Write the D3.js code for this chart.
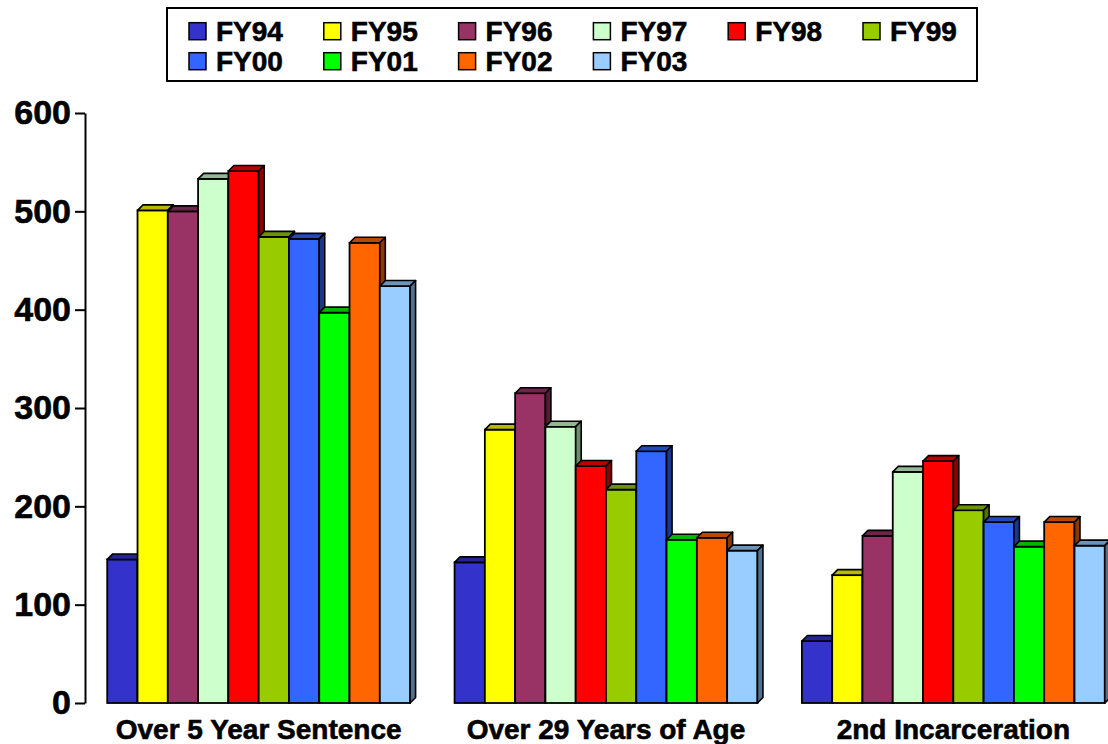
<!DOCTYPE html>
<html>
<head>
<meta charset="utf-8">
<script src="https://cdn.jsdelivr.net/npm/d3@7/dist/d3.min.js"></script>
<style>
  html, body { margin: 0; padding: 0; background: #ffffff; }
  svg { display: block; font-family: "Liberation Sans", Arial, sans-serif; font-weight: bold; }
  text { stroke: #000; stroke-width: 0.6px; paint-order: stroke; }
</style>
</head>
<body>
<svg id="chart" width="1108" height="744"></svg>
<script>
// Categories along the x axis
const categories = ["Over 5 Year Sentence", "Over 29 Years of Age", "2nd Incarceration"];

// Fiscal-year series, one value per category
const years = ["FY94", "FY95", "FY96", "FY97", "FY98", "FY99", "FY00", "FY01", "FY02", "FY03"];
const fy94 = [146, 143, 63];
const fy95 = [501, 278, 130];
const fy96 = [500, 315, 170];
const fy97 = [533, 281, 235];
const fy98 = [541, 241, 246];
const fy99 = [474, 217, 196];
const fy00 = [472, 256, 184];
const fy01 = [397, 166, 159];
const fy02 = [468, 168, 184];
const fy03 = [424, 155, 160];
const seriesValues = [fy94, fy95, fy96, fy97, fy98, fy99, fy00, fy01, fy02, fy03];

const colors = ["#3333cc", "#ffff00", "#993366", "#ccffcc", "#ff0000",
                "#99cc00", "#3366ff", "#00ff00", "#ff6600", "#99ccff"];

const yTicks = [0, 100, 200, 300, 400, 500, 600];

const svg = d3.select("#chart");

// Scales
const x0 = d3.scaleBand().domain(categories).range([85, 1127]).paddingInner(0.128).paddingOuter(0.064);
const x1 = d3.scaleBand().domain(years).range([0, x0.bandwidth()]).padding(0);
const y = d3.scaleLinear().domain([0, 600]).range([703, 113]);

const depth = 5.5;

function shade(c, k) {
  const r = d3.rgb(c);
  return d3.rgb(r.r * k, r.g * k, r.b * k).formatHex();
}

// 3D columns: front face, top face and right side, drawn left to right
const plot = svg.append("g");
categories.forEach((cat, ci) => {
  years.forEach((yr, si) => {
    const v = seriesValues[si][ci];
    const bx = x0(cat) + x1(yr);
    const bw = x1.bandwidth();
    const top = y(v);
    const base = y(0);
    const g = plot.append("g");
    g.append("rect")
      .attr("x", bx).attr("y", top)
      .attr("width", bw).attr("height", base - top)
      .attr("fill", colors[si])
      .attr("stroke", "#000").attr("stroke-width", 1.8);
    g.append("polygon")
      .attr("points", [[bx, top], [bx + depth, top - depth], [bx + bw + depth, top - depth], [bx + bw, top]].join(" "))
      .attr("fill", shade(colors[si], 0.72))
      .attr("stroke", "#000").attr("stroke-width", 1.6).attr("stroke-linejoin", "round");
    g.append("polygon")
      .attr("points", [[bx + bw, top], [bx + bw + depth, top - depth], [bx + bw + depth, base - depth], [bx + bw, base]].join(" "))
      .attr("fill", shade(colors[si], 0.55))
      .attr("stroke", "#000").attr("stroke-width", 1.6).attr("stroke-linejoin", "round");
  });
});

// Y axis
const yAxis = d3.axisLeft(y).tickValues(yTicks).tickSize(10).tickSizeOuter(0).tickPadding(4);
const ga = svg.append("g").attr("transform", "translate(85,0)").call(yAxis);
ga.select(".domain").attr("stroke", "#000").attr("stroke-width", 2);
ga.selectAll(".tick line").attr("stroke", "#000").attr("stroke-width", 2);
ga.selectAll(".tick text")
  .attr("fill", "#000")
  .attr("font-size", 34)
  .attr("font-weight", "bold")
  .attr("font-family", "'Liberation Sans', Arial, sans-serif");

// Category labels
svg.append("g").selectAll("text")
  .data(categories)
  .join("text")
  .attr("x", d => x0(d) + x0.bandwidth() / 2)
  .attr("y", 739)
  .attr("text-anchor", "middle")
  .attr("font-size", 28)
  .attr("fill", "#000")
  .text(d => d);

// Legend
const legend = svg.append("g");
legend.append("rect")
  .attr("x", 167).attr("y", 8).attr("width", 810).attr("height", 73)
  .attr("fill", "#fff").attr("stroke", "#000").attr("stroke-width", 2);
years.forEach((yr, i) => {
  const tx = 216 + (i % 6) * 134.8;
  const by = 40.7 + Math.floor(i / 6) * 30;
  legend.append("rect")
    .attr("x", tx - 27).attr("y", by - 18)
    .attr("width", 17).attr("height", 17)
    .attr("fill", colors[i]).attr("stroke", "#000").attr("stroke-width", 1.5);
  legend.append("text")
    .attr("x", tx).attr("y", by)
    .attr("font-size", 28)
    .attr("fill", "#000")
    .text(yr);
});
</script>
</body>
</html>
